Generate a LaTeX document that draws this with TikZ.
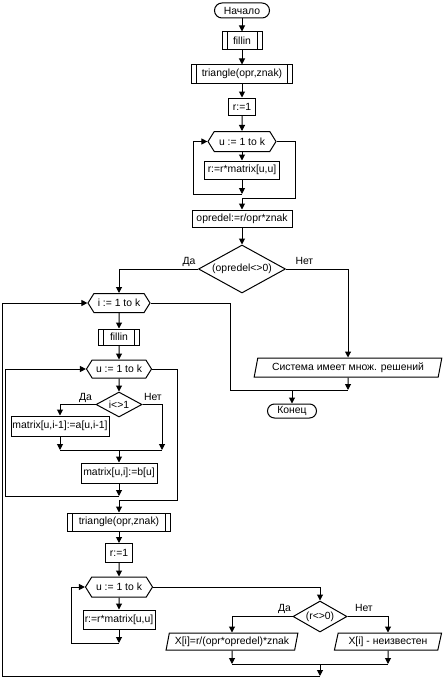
\documentclass[tikz,border=0pt]{standalone}
\usepackage{fontspec}
\setmainfont{Liberation Sans}
\usetikzlibrary{shapes.geometric,shapes.misc,shapes.symbols,arrows.meta}

\begin{document}
\begin{tikzpicture}[x=1pt, y=-1pt, line width=1pt,
    >={Triangle[length=6pt,width=6pt]},
    every node/.style={font=\fontsize{10.4}{12}\selectfont, inner sep=0pt},
    box/.style={rectangle, draw},
    term/.style={rounded rectangle, draw},
    sub/.style={rectangle, draw, path picture={
        \draw[line width=1pt] ([xshift=5pt]path picture bounding box.north west) -- ([xshift=5pt]path picture bounding box.south west);
        \draw[line width=1pt] ([xshift=-5pt]path picture bounding box.north east) -- ([xshift=-5pt]path picture bounding box.south east);}},
    loop/.style={signal, signal to=east and west, signal pointer angle=116, draw},
    cond/.style={diamond, draw},
    io/.style={trapezium, trapezium left angle=73, trapezium right angle=107,
        trapezium stretches=true, draw},
    lbl/.style={inner sep=0pt}]

\useasboundingbox (0,0) rectangle (444,677);

\node[term, minimum width=55, minimum height=15] (t1) at (242,10.5) {Начало};

\node[sub, minimum width=40, minimum height=18] (p1) at (242,41) {fillin};

\node[sub, minimum width=101, minimum height=18] (p2) at (242,74) {triangle(opr,znak)};

\node[box, minimum width=27, minimum height=17] (a1) at (242,106.5) {r:=1};

\node[loop, minimum width=68, minimum height=20] (l1) at (242,141.5) {u := 1 to k};

\node[box, minimum width=75, minimum height=18] (a2) at (242,170) {r:=r*matrix[u,u]};

\node[box, minimum width=100, minimum height=17] (a3) at (242,218.5) {opredel:=r/opr*znak};

\node[cond, aspect=1.81, minimum width=87, minimum height=48] (d1) at (242,269) {(opredel<>0)};

\node[loop, minimum width=62, minimum height=19] (l2) at (119,303) {i := 1 to k};

\node[sub, minimum width=41, minimum height=16] (p3) at (119,337) {fillin};

\node[loop, minimum width=65, minimum height=18] (l3) at (119,369) {u := 1 to k};

\node[cond, aspect=1.84, minimum width=46, minimum height=25] (d2) at (119,404.5) {i<>1};

\node[box, minimum width=98, minimum height=20] (a4) at (60,426) {matrix[u,i-1]:=a[u,i-1]};

\node[box, minimum width=76, minimum height=20] (a5) at (119,473) {matrix[u,i]:=b[u]};

\node[sub, minimum width=103, minimum height=18] (p4) at (119,522) {triangle(opr,znak)};

\node[box, minimum width=27, minimum height=19] (a6) at (119,553) {r:=1};

\node[loop, minimum width=67, minimum height=20] (l4) at (119,587) {u := 1 to k};

\node[box, minimum width=72, minimum height=19] (a7) at (119,619.5) {r:=r*matrix[u,u]};

\node[cond, aspect=1.74, minimum width=54, minimum height=31] (d3) at (320,616.5) {(r<>0)};

\node[io, minimum width=132, minimum height=17] (o2) at (232,641.5) {X[i]=r/(opr*opredel)*znak};

\node[io, minimum width=108, minimum height=17] (o3) at (388,641.5) {X[i] - неизвестен};

\node[io, minimum width=188, minimum height=19] (o1) at (348,367.5) {Система имеет множ. решений};

\node[term, minimum width=49, minimum height=14] (t2) at (292,411) {Конец};

\node[lbl, anchor=base east] (y1) at ([xshift=-2pt,yshift=5pt]d1.west) {Да};
\node[lbl, anchor=base west] (n1) at ([xshift=9pt,yshift=5pt]d1.east) {Нет};
\node[lbl, anchor=base east] (y2) at ([xshift=-3pt,yshift=4pt]d2.west) {Да};
\node[lbl, anchor=base west] (n2) at ([xshift=1pt,yshift=4pt]d2.east) {Нет};
\node[lbl, anchor=base east] (y3) at ([xshift=-1pt,yshift=5pt]d3.west) {Да};
\node[lbl, anchor=base west] (n3) at ([xshift=7pt,yshift=5pt]d3.east) {Нет};

\coordinate (c1) at (242,194);
\coordinate (k1) at (193,194);
\coordinate (c2) at (242,198);
\coordinate (k2) at (295,198);
\coordinate (m1) at (60,450);
\coordinate (m2) at (162,450);
\coordinate (m3) at (119,450);
\coordinate (c3) at (119,496);
\coordinate (k3) at (5,496);
\coordinate (c4) at (119,500);
\coordinate (k4) at (177,500);
\coordinate (c5) at (119,643);
\coordinate (k5) at (71,643);
\coordinate (m4) at (232,664);
\coordinate (m5) at (388,664);
\coordinate (m6) at (320,664);
\coordinate (c6) at (320,676);
\coordinate (k6) at (2,676);
\coordinate (k7) at (230,390);
\coordinate (m7) at (348,390);
\coordinate (m8) at (292,390);

\draw[->] (t1) -- (p1);
\draw[->] (p1) -- (p2);
\draw[->] (p2) -- (a1);
\draw[->] (a1) -- (l1);
\draw[->] (l1) -- (a2);
\draw[->] (a2) -- (c1);
\draw[->] (c1) -- (k1) |- (l1.west);
\draw (l1.east) -| (k2) -- (c2);
\draw[->] (c2) -- (a3);
\draw[->] (a3) -- (d1);

\draw[->] (d1.west) -| (l2);
\draw[->] (d1.east) -| (o1);
\draw[->] (l2) -- (p3);
\draw[->] (p3) -- (l3);
\draw[->] (l3) -- (d2);
\draw[->] (d2.west) -| (a4);
\draw[->] (d2.east) -| (m2);
\draw[->] (a4) -- (m1);
\draw (m1) -- (m2);
\draw[->] (m3) -- (a5);
\draw[->] (a5) -- (c3);
\draw[->] (c3) -- (k3) |- (l3.west);
\draw (l3.east) -| (k4) -- (c4);
\draw[->] (c4) -- (p4);
\draw[->] (p4) -- (a6);
\draw[->] (a6) -- (l4);
\draw[->] (l4) -- (a7);
\draw[->] (a7) -- (c5);
\draw[->] (c5) -- (k5) |- (l4.west);
\draw[->] (l4.east) -| (d3);
\draw[->] (d3.west) -| (o2);
\draw[->] (d3.east) -| (o3);
\draw[->] (o2) -- (m4);
\draw[->] (o3) -- (m5);
\draw (m4) -- (m5);
\draw[->] (m6) -- (c6);
\draw[->] (c6) -- (k6) |- (l2.west);

\draw (l2.east) -| (k7) -- (m7);
\draw[->] (o1) -- (m7);
\draw[->] (m8) -- (t2);

\end{tikzpicture}
\end{document}
